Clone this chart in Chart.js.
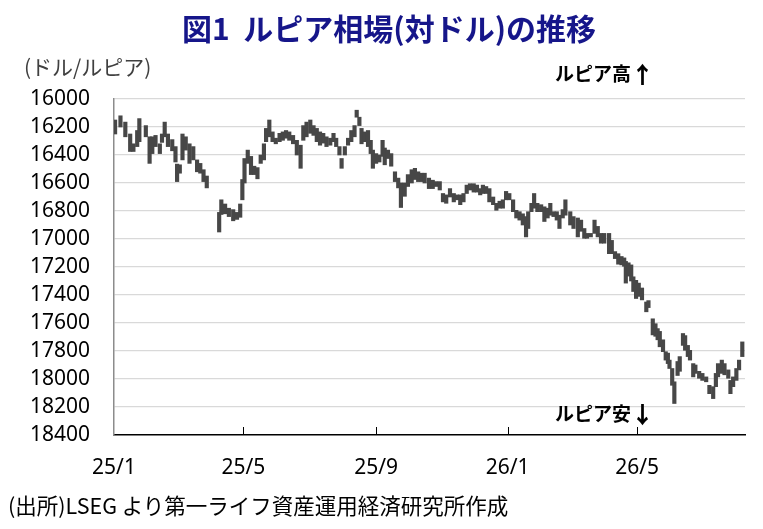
<!DOCTYPE html>
<html lang="ja">
<head>
<meta charset="utf-8">
<title>図1 ルピア相場(対ドル)の推移</title>
<script src="https://cdn.jsdelivr.net/npm/chart.js@4.4.1/dist/chart.umd.min.js"></script>
<style>
  body { margin: 0; background: #fff; }
  #wrap { position: relative; width: 763px; height: 529px; font-family: "Noto Sans CJK JP", "Noto Sans", sans-serif; }
  #wrap canvas { position: absolute; left: 0; top: 0; }
  .txt { position: absolute; white-space: nowrap; line-height: 1; }
  #title { left: 0; width: 778px; top: 12px; text-align: center; font-size: 30px; font-weight: bold; color: #16168a; }
  #unit { left: 24px; top: 56px; font-size: 21px; color: #404040; }
  #up { left: 555px; top: 62px; font-size: 19px; font-weight: bold; color: #000; }
  #down { left: 555px; top: 402px; font-size: 19px; font-weight: bold; color: #000; }
  .arr { font-size: 23px; font-weight: 900; vertical-align: -2px; }
  #source { left: 8px; top: 494px; font-size: 21.5px; color: #000; }
</style>
</head>
<body>
<div id="wrap">
  <canvas id="chart" width="763" height="529"></canvas>
  <div class="txt" id="title">図1&nbsp;&nbsp;ルピア相場(対ドル)の推移</div>
  <div class="txt" id="unit">(ドル/ルピア)</div>
  <div class="txt" id="up">ルピア高<span class="arr">↑</span></div>
  <div class="txt" id="down">ルピア安<span class="arr">↓</span></div>
  <div class="txt" id="source">(出所)LSEG より第一ライフ資産運用経済研究所作成</div>
</div>
<script>
// days counted from 2025/1/1, daily range
const days = [
  1, 6, 10.5, 15, 18, 21.5, 23.5, 29.5, 33, 35.5,
  38.5, 42.5, 44.5, 47, 50, 54, 57, 58.5, 61, 63.5,
  66.5, 70, 73.5, 77, 80, 83, 86, 97.5, 99.5, 103,
  106.5, 110.5, 114, 117, 119, 121, 124, 127, 130, 133,
  136, 139, 141, 144,
  147, 150, 153.5, 156.5, 159.5, 162.5, 166, 169.5, 173, 175.5,
  178.5, 182, 185, 188, 191, 194, 197, 200.5, 203.5, 206,
  209, 211, 214, 217, 220, 223, 225, 227.5, 229.5, 232,
  235.5, 238, 240, 243, 246, 249, 251, 254, 257, 260.5,
  263.5, 266, 269.5, 272.5, 276, 279, 282, 285,
  288, 292, 295.5, 298.5, 302, 305, 308, 311.5, 315, 318,
  321, 324, 327, 330, 333.5, 336.5, 339.5, 342, 345, 348,
  351.5, 354.5, 357.5, 360.5, 363.5, 366.5, 370, 373, 376, 379,
  382, 384, 387, 389.5, 392.5, 396, 399, 402, 404.5, 407.5,
  410.5, 413, 416, 418.5, 423, 426, 430, 433,
  436, 438.5, 442, 445.5, 448.5, 451.5, 454.5, 459, 461.5, 464.5,
  467.5, 470.5, 473, 474.5, 477, 479.5, 481.5, 484, 486.5, 489.5,
  493.5, 495.5, 499.5, 502, 504, 506, 509, 511.5, 513.5, 515,
  517.5, 519.5, 522.5, 524.5, 527.5, 529.5, 532, 534, 537, 539,
  542.5, 545.5, 549, 552, 555.5, 558, 560, 563.5, 566, 569.5,
  571.5, 574, 577, 579.5, 582.5
];
const lows = [
  16150, 16120, 16165, 16250, 16320, 16225, 16140, 16190, 16270, 16270,
  16260, 16320, 16250, 16165, 16250, 16290, 16340, 16465, 16470, 16250,
  16270, 16320, 16340, 16435, 16460, 16505, 16550, 16810, 16720, 16750,
  16780, 16790, 16810, 16750, 16575, 16425, 16365, 16410, 16480, 16490,
  16400, 16320, 16210, 16150,
  16235, 16280, 16245, 16235, 16225, 16235, 16260, 16295, 16330, 16190,
  16165, 16150, 16190, 16210, 16235, 16245, 16270, 16280, 16245, 16280,
  16340, 16425, 16340, 16280, 16225, 16190, 16080, 16130, 16210, 16235,
  16225, 16295, 16365, 16390, 16400, 16295, 16350, 16365, 16390, 16520,
  16565, 16600, 16600, 16540, 16505, 16495, 16520, 16530,
  16530, 16565, 16580, 16590, 16590, 16675, 16685, 16640, 16675, 16685,
  16685, 16675, 16615, 16605, 16605, 16615, 16640, 16615, 16625, 16640,
  16700, 16745, 16730, 16720, 16660, 16675, 16720, 16795, 16805, 16820,
  16840, 16805, 16745, 16675, 16745, 16755, 16770, 16780, 16745, 16805,
  16805, 16830, 16790, 16720, 16805, 16840, 16850, 16865,
  16925, 16960, 16960, 16865, 16910, 16960, 16960, 16960, 17010, 17090,
  17105, 17125, 17135, 17160, 17170, 17185, 17270, 17295, 17315, 17350,
  17450, 17440, 17570, 17605, 17640, 17660, 17720, 17805, 17815, 17865,
  17925, 18020, 17875, 17840, 17675, 17690, 17760, 17795, 17890, 17900,
  17945, 17960, 17985, 18045, 18055, 17960, 17890, 17865, 17890, 17935,
  18010, 17985, 17925, 17865, 17735
];
const highs = [
  16250, 16200, 16270, 16375, 16375, 16340, 16305, 16270, 16460, 16390,
  16340, 16390, 16310, 16270, 16340, 16370, 16450, 16590, 16530, 16435,
  16365, 16460, 16435, 16520, 16530, 16590, 16635, 16950, 16825, 16820,
  16840, 16870, 16860, 16845, 16720, 16600, 16460, 16540, 16540, 16570,
  16460, 16435, 16305, 16270,
  16305, 16320, 16305, 16295, 16280, 16295, 16320, 16400, 16495, 16295,
  16270, 16245, 16260, 16305, 16330, 16315, 16340, 16330, 16305, 16340,
  16400, 16495, 16400, 16330, 16305, 16270, 16130, 16190, 16320, 16305,
  16340, 16390, 16495, 16460, 16450, 16410, 16470, 16425, 16480, 16590,
  16635, 16775, 16695, 16625, 16600, 16575, 16590, 16590,
  16600, 16640, 16640, 16625, 16650, 16735, 16745, 16700, 16735, 16720,
  16755, 16735, 16675, 16650, 16665, 16665, 16685, 16675, 16675, 16735,
  16755, 16795, 16780, 16780, 16720, 16720, 16805, 16850, 16865, 16900,
  16985, 16925, 16805, 16780, 16805, 16805, 16875, 16850, 16830, 16840,
  16865, 16925, 16850, 16830, 16900, 16925, 16985, 16945,
  16995, 16995, 16985, 16960, 16985, 17030, 17030, 17105, 17105, 17140,
  17180, 17185, 17195, 17315, 17265, 17300, 17375, 17425, 17410, 17435,
  17520, 17490, 17685, 17695, 17720, 17770, 17805, 17865, 17890, 17925,
  18045, 18175, 17975, 17945, 17760, 17795, 17840, 17865, 17985, 17960,
  17995, 18010, 18020, 18105, 18140, 18055, 17985, 17960, 17970, 17995,
  18105, 18055, 18010, 17935, 17840
];

const tickDays = [0, 120, 243, 365, 485];
const tickLabels = ['25/1', '25/5', '25/9', '26/1', '26/5'];

// small tick marks pointing up into the plot from the date axis
const innerTicks = {
  id: 'innerTicks',
  afterDraw(chart) {
    const xs = chart.scales.x;
    const area = chart.chartArea;
    const ctx = chart.ctx;
    ctx.save();
    ctx.strokeStyle = '#000';
    ctx.lineWidth = 1;
    xs.ticks.forEach(t => {
      const px = Math.round(xs.getPixelForValue(t.value)) + 0.5;
      if (px < area.left + 3) return;
      ctx.beginPath();
      ctx.moveTo(px, area.bottom);
      ctx.lineTo(px, area.bottom - 8);
      ctx.stroke();
    });
    ctx.restore();
  }
};

new Chart(document.getElementById('chart'), {
  type: 'bar',
  data: {
    datasets: [{
      data: days.map((d, i) => ({ x: d, y: [lows[i], highs[i]] })),
      backgroundColor: '#474747',
      barThickness: 3.5,
      borderSkipped: false
    }]
  },
  options: {
    responsive: false,
    animation: false,
    layout: { padding: { top: 99, right: 18, bottom: 0, left: 0 } },
    plugins: { legend: { display: false }, tooltip: { enabled: false } },
    scales: {
      x: {
        type: 'linear',
        min: 0,
        max: 585,
        offset: false,
        afterBuildTicks: s => { s.ticks = tickDays.map(v => ({ value: v })); },
        afterFit: s => { s.height = 94; },
        ticks: {
          callback: v => tickLabels[tickDays.indexOf(v)],
          font: { family: 'Noto Sans', size: 21 },
          color: '#000',
          padding: 20,
          maxRotation: 0,
          autoSkip: false
        },
        grid: { display: false, drawTicks: false },
        border: { color: '#000', width: 1.5 }
      },
      y: {
        min: 16000,
        max: 18400,
        reverse: true,
        afterFit: s => { s.width = 114; },
        ticks: {
          stepSize: 200,
          autoSkip: false,
          callback: v => String(v),
          font: { family: 'Noto Sans', size: 21 },
          color: '#000',
          padding: 24
        },
        grid: {
          drawTicks: false,
          color: c => (c.tick && c.tick.value === 18400 ? 'rgba(0,0,0,0)' : '#d9d9d9'),
          lineWidth: 1.3
        },
        border: { color: '#8c8c8c', width: 1.5 }
      }
    }
  },
  plugins: [innerTicks]
});
</script>
</body>
</html>
